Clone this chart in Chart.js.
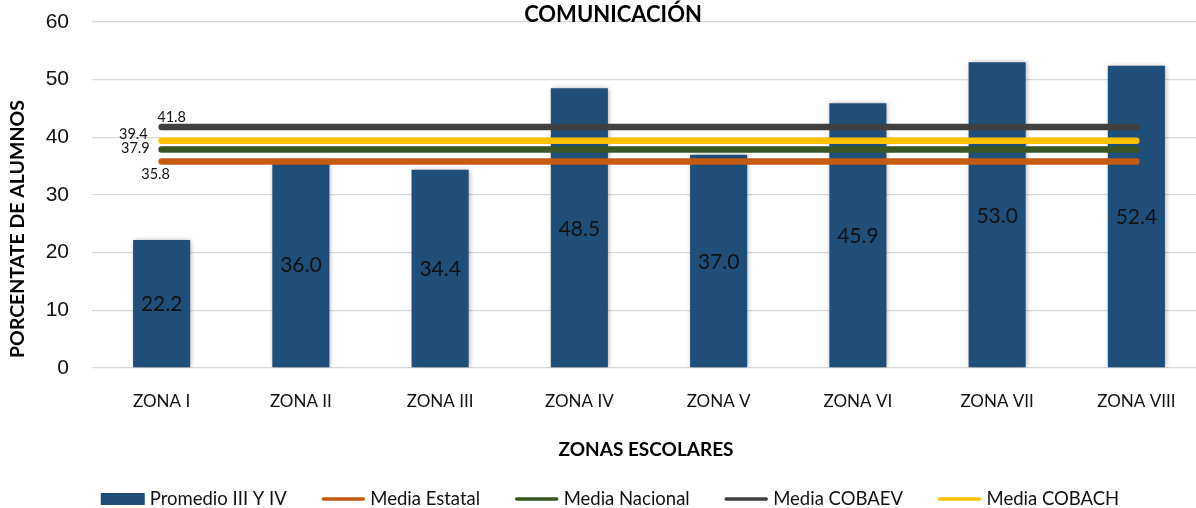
<!DOCTYPE html>
<html>
<head>
<meta charset="utf-8">
<script src="https://cdn.jsdelivr.net/npm/chart.js@4"></script>
<style>
html,body{margin:0;padding:0;background:#fff;overflow:hidden;}
#wrap{width:1210px;height:508px;position:relative;}
</style>
</head>
<body>
<div id="wrap"><canvas id="c" width="1210" height="508"></canvas></div>
<script>
const categories = ['ZONA I','ZONA II','ZONA III','ZONA IV','ZONA V','ZONA VI','ZONA VII','ZONA VIII'];
const promedio = [22.2, 36.0, 34.4, 48.5, 37.0, 45.9, 53.0, 52.4];
const mediaEstatal = [35.8, 35.8, 35.8, 35.8, 35.8, 35.8, 35.8, 35.8];
const mediaNacional = [37.9, 37.9, 37.9, 37.9, 37.9, 37.9, 37.9, 37.9];
const mediaCobaev = [41.8, 41.8, 41.8, 41.8, 41.8, 41.8, 41.8, 41.8];
const mediaCobach = [39.4, 39.4, 39.4, 39.4, 39.4, 39.4, 39.4, 39.4];
const yTicks = [0, 10, 20, 30, 40, 50, 60];

const chartTitle = 'COMUNICACIÓN';
const yTitle = 'PORCENTATE DE ALUMNOS';
const xTitle = 'ZONAS ESCOLARES';

const FONT = 'Lato, "Open Sans", sans-serif';

function lineDs(label, data, color, pos) {
  return {
    type: 'line', label, data,
    borderColor: color, backgroundColor: color,
    borderWidth: 6.5, borderCapStyle: 'round',
    pointRadius: 0, pointHoverRadius: 0, tension: 0, fill: false,
    order: 0, labelPos: pos
  };
}

const barShadow = {
  id: 'barShadow',
  beforeDatasetDraw(chart, args) {
    if (chart.data.datasets[args.index].type === 'bar') {
      const ctx = chart.ctx;
      ctx.save();
      ctx.shadowColor = 'rgba(0,0,0,0.35)';
      ctx.shadowBlur = 5;
      ctx.shadowOffsetX = 1;
      ctx.shadowOffsetY = 0;
    }
  },
  afterDatasetDraw(chart, args) {
    if (chart.data.datasets[args.index].type === 'bar') {
      chart.ctx.restore();
    }
  }
};

const labelsPlugin = {
  id: 'labelsPlugin',
  afterDatasetsDraw(chart) {
    const ctx = chart.ctx;
    ctx.save();
    chart.data.datasets.forEach((ds, i) => {
      const meta = chart.getDatasetMeta(i);
      if (ds.type === 'bar') {
        ctx.font = '21px ' + FONT;
        ctx.fillStyle = '#111';
        ctx.textAlign = 'center';
        ctx.textBaseline = 'middle';
        meta.data.forEach((el, j) => {
          const mid = (el.y + el.base) / 2;
          ctx.fillText(ds.data[j].toFixed(1), el.x, mid + 1);
        });
      } else {
        const el = meta.data[0];
        ctx.font = '14.5px ' + FONT;
        ctx.fillStyle = '#111';
        ctx.textBaseline = 'middle';
        const txt = ds.data[0].toFixed(1);
        if (ds.labelPos === 'top') { ctx.textAlign = 'center'; ctx.fillText(txt, el.x + 10, el.y - 10); }
        else if (ds.labelPos === 'bottom') { ctx.textAlign = 'center'; ctx.fillText(txt, el.x - 6, el.y + 13); }
        else if (ds.labelPos === 'left-up') { ctx.textAlign = 'right'; ctx.fillText(txt, el.x - 14, el.y - 6); }
        else { ctx.textAlign = 'right'; ctx.fillText(txt, el.x - 12, el.y - 1); }
      }
    });
    ctx.restore();
  }
};

const decorPlugin = {
  id: 'decor',
  afterDraw(chart) {
    const ctx = chart.ctx;
    ctx.save();
    // title
    ctx.fillStyle = '#000';
    ctx.font = 'bold 22px ' + FONT;
    ctx.textAlign = 'center';
    ctx.textBaseline = 'middle';
    ctx.fillText(chartTitle, 613, 15);
    // y title
    ctx.save();
    ctx.translate(18, 229);
    ctx.rotate(-Math.PI / 2);
    ctx.font = 'bold 19.5px ' + FONT;
    ctx.fillText(yTitle, 0, 0);
    ctx.restore();
    // x title
    ctx.font = 'bold 19px ' + FONT;
    ctx.fillText(xTitle, 646, 450);
    // legend
    ctx.font = '18.5px ' + FONT;
    ctx.textAlign = 'left';
    const items = chart.data.datasets.map(ds => ({ ds, w: ctx.measureText(ds.label).width }));
    const sw = 44, gapT = 5, gapI = 34.5;
    let total = 0;
    items.forEach((it, k) => { total += sw + gapT + it.w + (k < items.length - 1 ? gapI : 0); });
    let x = 610 - total / 2;
    const y = 499;
    items.forEach(it => {
      const ds = it.ds;
      if (ds.type === 'bar') {
        ctx.fillStyle = ds.backgroundColor;
        ctx.fillRect(x, y - 6, sw, 12);
      } else {
        ctx.strokeStyle = ds.borderColor;
        ctx.lineWidth = 3.5;
        ctx.lineCap = 'round';
        ctx.beginPath();
        ctx.moveTo(x + 2, y);
        ctx.lineTo(x + sw - 2, y);
        ctx.stroke();
      }
      ctx.fillStyle = '#111';
      ctx.fillText(ds.label, x + sw + gapT, y);
      x += sw + gapT + it.w + gapI;
    });
    ctx.restore();
  }
};

new Chart(document.getElementById('c'), {
  data: {
    labels: categories,
    datasets: [
      { type: 'bar', label: 'Promedio III Y IV', data: promedio, backgroundColor: '#1F4E79',
        borderWidth: 0, barPercentage: 0.41, categoryPercentage: 1.0, order: 1 },
      lineDs('Media Estatal', mediaEstatal, '#C55A11', 'bottom'),
      lineDs('Media Nacional', mediaNacional, '#375623', 'left'),
      lineDs('Media COBAEV', mediaCobaev, '#404040', 'top'),
      lineDs('Media COBACH', mediaCobach, '#FFC000', 'left-up')
    ]
  },
  options: {
    responsive: false,
    animation: false,
    events: [],
    layout: { padding: { top: 22, right: 4, left: 0, bottom: 0 } },
    plugins: { legend: { display: false }, tooltip: { enabled: false }, title: { display: false } },
    scales: {
      x: {
        offset: true,
        grid: { display: false, drawTicks: false },
        border: { display: false },
        ticks: { color: '#111', font: { family: FONT, size: 17 }, padding: 23, maxRotation: 0 },
        afterFit(scale) { scale.height = 140; scale.paddingLeft = 0; scale.paddingRight = 0; }
      },
      y: {
        min: 0, max: 60,
        afterBuildTicks(scale) { scale.ticks = yTicks.map(v => ({ value: v })); },
        grid: { color: '#D9D9D9', lineWidth: 1.3, drawTicks: false },
        border: { display: false },
        ticks: { color: '#111', font: { family: '"Liberation Sans", Arial, sans-serif', size: 21 }, padding: 23 },
        afterFit(scale) { scale.width = 92; scale.paddingTop = 0; scale.paddingBottom = 0; }
      }
    }
  },
  plugins: [barShadow, labelsPlugin, decorPlugin]
});
</script>
</body>
</html>
